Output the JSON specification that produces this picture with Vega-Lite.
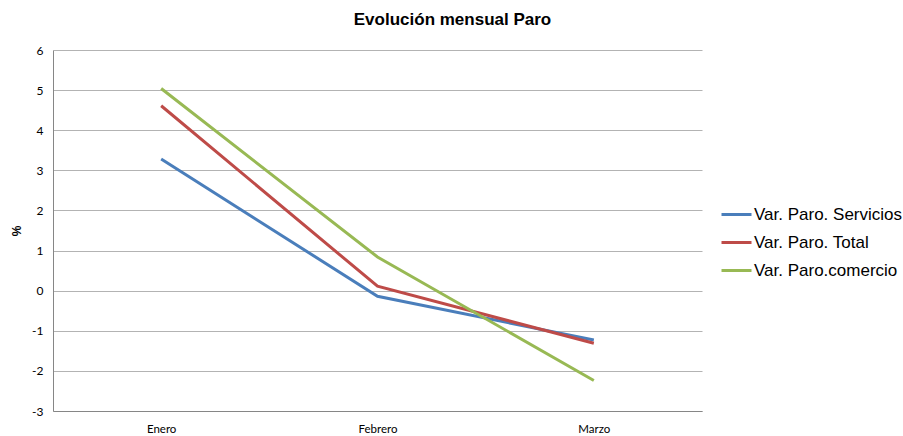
{
  "$schema": "https://vega.github.io/schema/vega-lite/v6.json",
  "autosize": {"type": "none"},
  "width": 649,
  "height": 361,
  "padding": {"left": 53, "top": 50, "right": 201, "bottom": 25},
  "background": "white",
  "title": {
    "text": "Evolución mensual Paro",
    "font": "Liberation Sans",
    "fontSize": 17,
    "fontWeight": "bold",
    "color": "#000000",
    "anchor": "middle",
    "frame": "group",
    "dx": 75,
    "offset": 15
  },
  "data": {
    "values": [
      {"mes": "Enero", "serie": "Var. Paro. Servicios", "valor": 3.28},
      {"mes": "Febrero", "serie": "Var. Paro. Servicios", "valor": -0.14},
      {"mes": "Marzo", "serie": "Var. Paro. Servicios", "valor": -1.23},
      {"mes": "Enero", "serie": "Var. Paro. Total", "valor": 4.61},
      {"mes": "Febrero", "serie": "Var. Paro. Total", "valor": 0.11},
      {"mes": "Marzo", "serie": "Var. Paro. Total", "valor": -1.31},
      {"mes": "Enero", "serie": "Var. Paro.comercio", "valor": 5.04},
      {"mes": "Febrero", "serie": "Var. Paro.comercio", "valor": 0.84},
      {"mes": "Marzo", "serie": "Var. Paro.comercio", "valor": -2.24}
    ]
  },
  "mark": {"type": "line", "strokeWidth": 3},
  "encoding": {
    "x": {
      "field": "mes",
      "type": "ordinal",
      "sort": ["Enero", "Febrero", "Marzo"],
      "scale": {"type": "point", "padding": 0.5},
      "axis": {
        "title": null,
        "labelAngle": 0,
        "labelFont": "Lato",
        "labelFontSize": 11.5,
        "labelColor": "#000000",
        "labelPadding": 12,
        "ticks": false,
        "grid": false,
        "domain": true,
        "domainColor": "#868686",
        "domainWidth": 1
      }
    },
    "y": {
      "field": "valor",
      "type": "quantitative",
      "scale": {"domain": [-3, 6], "nice": false, "zero": false},
      "axis": {
        "title": "%",
        "titleFont": "Liberation Sans",
        "titleFontSize": 12,
        "titleFontWeight": "bold",
        "titleColor": "#000000",
        "titlePadding": 8,
        "values": [-3, -2, -1, 0, 1, 2, 3, 4, 5, 6],
        "labelExpr": "toString(datum.value)",
        "labelFont": "Lato",
        "labelFontSize": 12,
        "labelColor": "#000000",
        "labelPadding": 10,
        "ticks": false,
        "domain": true,
        "domainColor": "#868686",
        "domainWidth": 1,
        "grid": true,
        "gridColor": "#b3b3b3",
        "gridWidth": 1
      }
    },
    "color": {
      "field": "serie",
      "type": "nominal",
      "scale": {
        "domain": ["Var. Paro. Servicios", "Var. Paro. Total", "Var. Paro.comercio"],
        "range": ["#4A7EBB", "#BE4B48", "#98B954"]
      },
      "legend": {
        "title": null,
        "orient": "none",
        "legendX": 667,
        "legendY": 148,
        "symbolType": "stroke",
        "symbolSize": 900,
        "symbolStrokeWidth": 3,
        "labelFont": "Liberation Sans",
        "labelFontSize": 17,
        "labelColor": "#000000",
        "labelOffset": 1,
        "rowPadding": 3,
        "labelLimit": 300
      }
    }
  },
  "config": {"view": {"stroke": null}}
}
